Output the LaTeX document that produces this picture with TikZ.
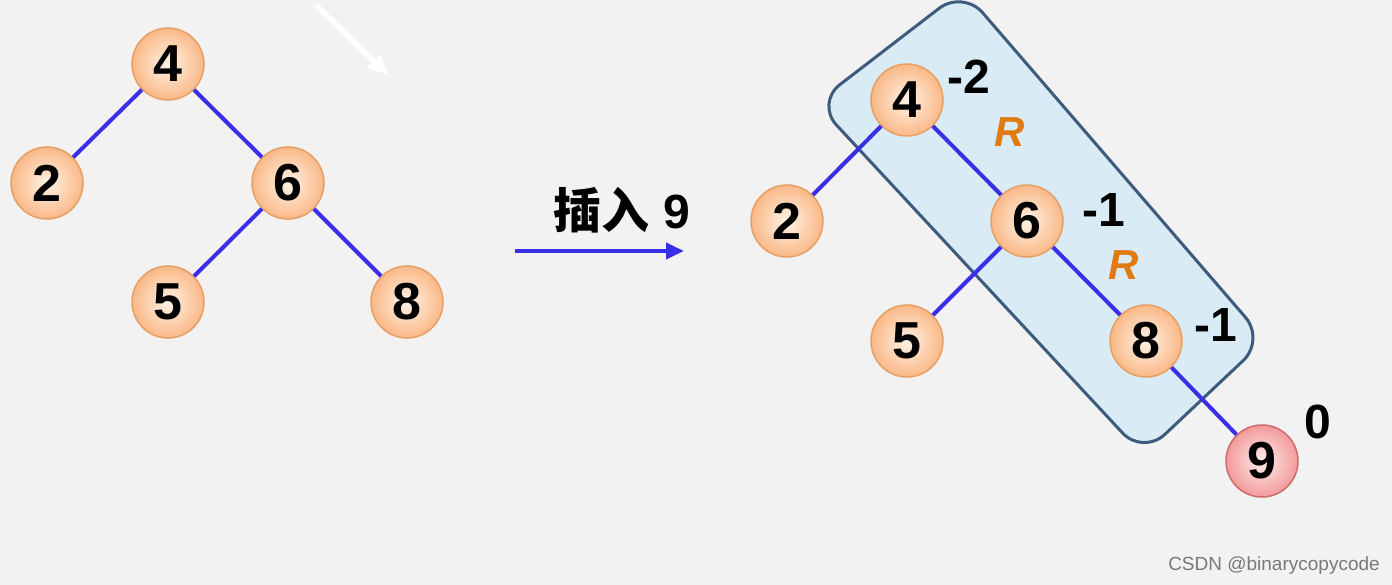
\documentclass[tikz,border=0pt]{standalone}
\usepackage{fontspec}
\setmainfont{Liberation Sans}
\newfontfamily\cjk{Noto Sans CJK SC}
\usepackage{tikz}
\usetikzlibrary{arrows.meta}

\definecolor{bgcol}{HTML}{F2F2F2}
\definecolor{ballin}{HTML}{FFF3E6}
\definecolor{ballout}{HTML}{FAB887}
\definecolor{ballring}{HTML}{E6A066}
\definecolor{pinkin}{HTML}{FFEDED}
\definecolor{pinkout}{HTML}{F39A9A}
\definecolor{pinkring}{HTML}{CF6B6B}
\definecolor{linkblue}{HTML}{3A2FE6}
\definecolor{boxfill}{HTML}{D9ECF5}
\definecolor{boxline}{HTML}{3D5B7C}
\definecolor{rotorange}{HTML}{E27A12}

\tikzset{
  num/.style={circle, minimum size=72pt, inner sep=0pt, draw=ballring, line width=1.5pt,
    inner color=ballin, outer color=ballout, font=\fontsize{52}{52}\selectfont\bfseries},
  newnum/.style={num, draw=pinkring, inner color=pinkin, outer color=pinkout},
  link/.style={draw=linkblue, line width=4pt},
  bal/.style={font=\fontsize{48}{48}\selectfont\bfseries},
  rot/.style={font=\fontsize{42}{42}\selectfont\bfseries\itshape, text=rotorange},
}

\begin{document}
\begin{tikzpicture}[x=1pt,y=-1pt]
  \useasboundingbox (0,0) rectangle (1392,585);
  \fill[bgcol] (0,0) rectangle (1392,585);

  % tree before
  \node[num] (a4) at (168,64) {4};
  \node[num] (a2) at (47,183) {2};
  \node[num] (a6) at (288,183) {6};
  \node[num] (a5) at (168,302) {5};
  \node[num] (a8) at (407,302) {8};
  \draw[link] (a4) -- (a2);
  \draw[link] (a4) -- (a6);
  \draw[link] (a6) -- (a5);
  \draw[link] (a6) -- (a8);

  \coordinate (w1) at (316,5);
  \coordinate (w2) at (388,75);
  \draw[white, line width=5pt, -{Triangle[length=20pt,width=18pt]}] (w1) -- (w2);

  % insert arrow
  \node (ins) at (622,210) {\fontsize{48}{48}\selectfont\bfseries{\cjk 插入} 9};
  \coordinate (s1) at (515,251);
  \coordinate (s2) at (684,251);
  \draw[linkblue, line width=4pt, -{Triangle[length=18pt,width=16pt]}] (s1) -- (s2);

  % tree after
  \draw[fill=boxfill, draw=boxline, line width=3pt, rounded corners=30pt]
    (963,-10) -- (1265,340) -- (1143,455) -- (816,103) -- cycle;
  \node[num] (b4) at (907,100) {4};
  \node[num] (b2) at (787,221) {2};
  \node[num] (b6) at (1027,221) {6};
  \node[num] (b5) at (907,341) {5};
  \node[num] (b8) at (1146,341) {8};
  \node[newnum] (b9) at (1262,461) {9};
  \draw[link] (b4) -- (b2);
  \draw[link] (b4) -- (b6);
  \draw[link] (b6) -- (b5);
  \draw[link] (b6) -- (b8);
  \draw[link] (b8) -- (b9);

  \node[bal] (f4) at (969,77) {-2};
  \node[bal] (f6) at (1104,210) {-1};
  \node[bal] (f8) at (1216,325) {-1};
  \node[bal] (f9) at (1318,422) {0};
  \node[rot] (r1) at (1010,132) {R};
  \node[rot] (r2) at (1124,265) {R};

  \node[text=gray!95!black, font=\fontsize{19}{19}\selectfont] (mark) at (1274,566) {CSDN @binarycopycode};
\end{tikzpicture}
\end{document}
